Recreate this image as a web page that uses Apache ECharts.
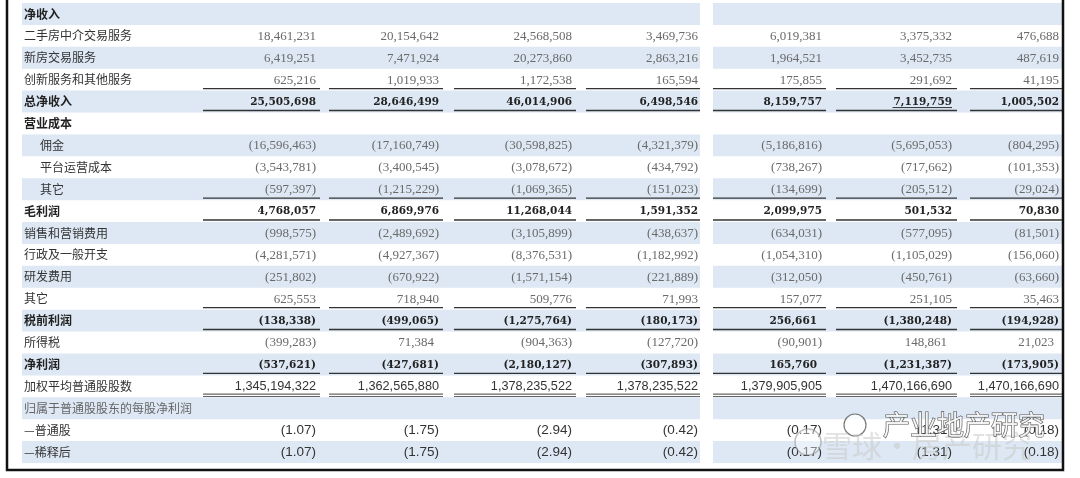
<!DOCTYPE html>
<html><head><meta charset="utf-8">
<script src="https://cdn.jsdelivr.net/npm/echarts@6/dist/echarts.min.js"></script>
<style>html,body{margin:0;padding:0;background:#fff}#c{width:1080px;height:478px}</style>
</head><body><div id="c"></div>
<script>
// ---------------- data ----------------
const rowLabels = ['净收入','二手房中介交易服务','新房交易服务','创新服务和其他服务','总净收入','营业成本','佣金','平台运营成本','其它','毛利润','销售和营销费用','行政及一般开支','研发费用','其它','税前利润','所得税','净利润','加权平均普通股股数','归属于普通股股东的每股净利润','—普通股','—稀释后'];
const col1 = [null,18461231,6419251,625216,25505698,null,-16596463,-3543781,-597397,4768057,-998575,-4281571,-251802,625553,-138338,-399283,-537621,1345194322,null,-1.07,-1.07];
const col2 = [null,20154642,7471924,1019933,28646499,null,-17160749,-3400545,-1215229,6869976,-2489692,-4927367,-670922,718940,-499065,71384,-427681,1362565880,null,-1.75,-1.75];
const col3 = [null,24568508,20273860,1172538,46014906,null,-30598825,-3078672,-1069365,11268044,-3105899,-8376531,-1571154,509776,-1275764,-904363,-2180127,1378235522,null,-2.94,-2.94];
const col4 = [null,3469736,2863216,165594,6498546,null,-4321379,-434792,-151023,1591352,-438637,-1182992,-221889,71993,-180173,-127720,-307893,1378235522,null,-0.42,-0.42];
const col5 = [null,6019381,1964521,175855,8159757,null,-5186816,-738267,-134699,2099975,-634031,-1054310,-312050,157077,256661,-90901,165760,1379905905,null,-0.17,-0.17];
const col6 = [null,3375332,3452735,291692,7119759,null,-5695053,-717662,-205512,501532,-577095,-1105029,-450761,251105,-1380248,148861,-1231387,1470166690,null,-1.31,-1.31];
const col7 = [null,476688,487619,41195,1005502,null,-804295,-101353,-29024,70830,-81501,-156060,-63660,35463,-194928,21023,-173905,1470166690,null,-0.18,-0.18];
const columns = [col1,col2,col3,col4,col5,col6,col7];

// ---------------- layout / style ----------------
const rowKind = ['head','item','item','item','total','head','sub','sub','sub','total','item','item','item','item','total','item','total','shares','note','eps','eps'];
const COL_RIGHT = [316,439,572,698,822,952,1059];
const COL_LINE = [[203,320],[329,443],[454,576],[586,700],[713,826],[836,957],[970,1062]];
const BAND_SPANS = [[22,700],[713,1062]];
const BAND = '#dde8f4';
const singleRules = [4,5,9,10,14,15,17];
const doubleRules = [18];
const underlined = [[5,4]];

function fmt(v, kind){
  if (v == null) return '';
  let s;
  if (kind === 'eps') s = Math.abs(v).toFixed(2);
  else s = String(Math.abs(v)).replace(/\B(?=(\d{3})+(?!\d))/g, ',');
  return v < 0 ? '(' + s + ')' : s;
}
function rowHasNeg(r){ return columns.some(c => c[r] != null && c[r] < 0); }

const chart = echarts.init(document.getElementById('c'), null, {renderer:'canvas'});

const bandData = rowLabels.map((_, i) => [0, i]).filter(d => d[1] % 2 === 0);
const ruleData = singleRules.map(b => [0, b - 1, 1]).concat(doubleRules.map(b => [0, b - 1, 2]));
const labelData = rowLabels.map((_, i) => [0, i]);
const valueData = [];
columns.forEach((col, c) => col.forEach((v, r) => { if (v != null) valueData.push([c, r]); }));

function valueStyle(kind){
  if (kind === 'total') return {fontSize:10.5, fontFamily:'"DejaVu Serif"', fontWeight:'bold', fill:'#222'};
  if (kind === 'shares') return {fontSize:12.7, fontFamily:'"Liberation Sans"', fontWeight:'normal', fill:'#333'};
  if (kind === 'eps') return {fontSize:13.5, fontFamily:'"Liberation Sans"', fontWeight:'normal', fill:'#333'};
  return {fontSize:13, fontFamily:'"Liberation Serif"', fontWeight:'normal', fill:'#6a6a6a'};
}

const option = {
  animation: false,
  grid: {left:0, right:0, top:3, height:460},
  xAxis: {type:'value', min:0, max:1080, show:false},
  yAxis: {type:'category', data: rowLabels.map((_, i) => String(i)), inverse:true, show:false},
  series: [
    { type:'custom', data: bandData, encode:{y:1}, silent:true,
      renderItem: (p, api) => {
        const row = api.value(1);
        const c = api.coord([0, row]);
        const h = api.size([0, 1])[1];
        return {type:'group', children: BAND_SPANS.map(s => {
          const x1 = api.coord([s[0], row])[0], x2 = api.coord([s[1], row])[0];
          return {type:'rect', shape:{x:x1, y:c[1] - h/2, width:x2 - x1, height:h}, style:{fill:BAND}};
        })};
      }
    },
    { type:'custom', data: ruleData, encode:{y:1}, silent:true, z:3,
      renderItem: (p, api) => {
        const row = api.value(1), kind = api.value(2);
        const h = api.size([0, 1])[1];
        const y = api.coord([0, row])[1] + h/2 - 2;
        const ch = [];
        COL_LINE.forEach(s => {
          const x1 = api.coord([s[0], row])[0], x2 = api.coord([s[1], row])[0];
          if (kind === 1) {
            ch.push({type:'line', shape:{x1:x1, y1:y, x2:x2, y2:y}, style:{stroke:'#333', lineWidth:1.4}});
          } else {
            ch.push({type:'line', shape:{x1:x1, y1:y - 1.2, x2:x2, y2:y - 1.2}, style:{stroke:'#666', lineWidth:1.2}});
            ch.push({type:'line', shape:{x1:x1, y1:y + 1.2, x2:x2, y2:y + 1.2}, style:{stroke:'#666', lineWidth:1.2}});
          }
        });
        return {type:'group', children: ch};
      }
    },
    { type:'custom', data: labelData, encode:{y:1}, silent:true, z:4,
      renderItem: (p, api) => {
        const row = api.value(1);
        const kind = rowKind[row];
        const y = api.coord([0, row])[1];
        const x = kind === 'sub' ? 40 : 24;
        const bold = kind === 'head' || kind === 'total';
        return {type:'text', style:{text: rowLabels[row], x: api.coord([x, row])[0], y: y,
          align:'left', verticalAlign:'middle', fontSize:12, fontFamily:'"Noto Sans CJK SC"',
          fontWeight: bold ? 'bold' : 'normal', fill: kind === 'note' ? '#666' : (bold ? '#222' : '#333')}};
      }
    },
    { type:'custom', data: valueData, encode:{y:1}, silent:true, z:4,
      renderItem: (p, api) => {
        const c = api.value(0), row = api.value(1);
        const kind = rowKind[row];
        const v = columns[c][row];
        const y = api.coord([0, row])[1];
        let xr = COL_RIGHT[c];
        if (v >= 0 && (kind === 'item' || kind === 'total' || kind === 'sub') && rowHasNeg(row)) xr -= 5;
        const st = valueStyle(kind);
        const txt = fmt(v, kind);
        const children = [{type:'text', style:Object.assign({text: txt, x: api.coord([xr, row])[0], y: y + 0.5,
          align:'right', verticalAlign:'middle'}, st)}];
        if (underlined.some(u => u[0] === c && u[1] === row)) {
          const w = txt.length * 6.6;
          children.push({type:'line', shape:{x1:xr - w, y1:y + 6, x2:xr, y2:y + 6}, style:{stroke:'#333', lineWidth:1}});
        }
        return {type:'group', children: children};
      }
    }
  ],
  graphic: [
    {type:'rect', shape:{x:7, y:-10, width:1056, height:480}, style:{fill:'none', stroke:'#111', lineWidth:2.5}, z:10},
    {type:'circle', shape:{cx:808, cy:442, r:13}, style:{fill:'rgba(255,255,255,0.4)', stroke:'rgba(150,150,150,0.6)', lineWidth:1.5}, z:11},
    {type:'circle', shape:{cx:855, cy:425, r:11}, style:{fill:'rgba(255,255,255,0.8)', stroke:'rgba(90,90,90,0.8)', lineWidth:1.2}, z:11},
    {type:'text', style:{text:'雪球·房产研究', x:822, y:446, verticalAlign:'middle', fontSize:30,
      fontFamily:'"Noto Sans CJK SC"', fill:'rgba(200,200,200,0.55)'}, z:11},
    {type:'text', style:{text:'产业地产研究', x:883, y:425, verticalAlign:'middle', fontSize:27,
      fontFamily:'"Noto Sans CJK SC"', fill:'rgba(255,255,255,0.85)', stroke:'#555', lineWidth:1.2}, z:12}
  ]
};
chart.setOption(option);
</script></body></html>
